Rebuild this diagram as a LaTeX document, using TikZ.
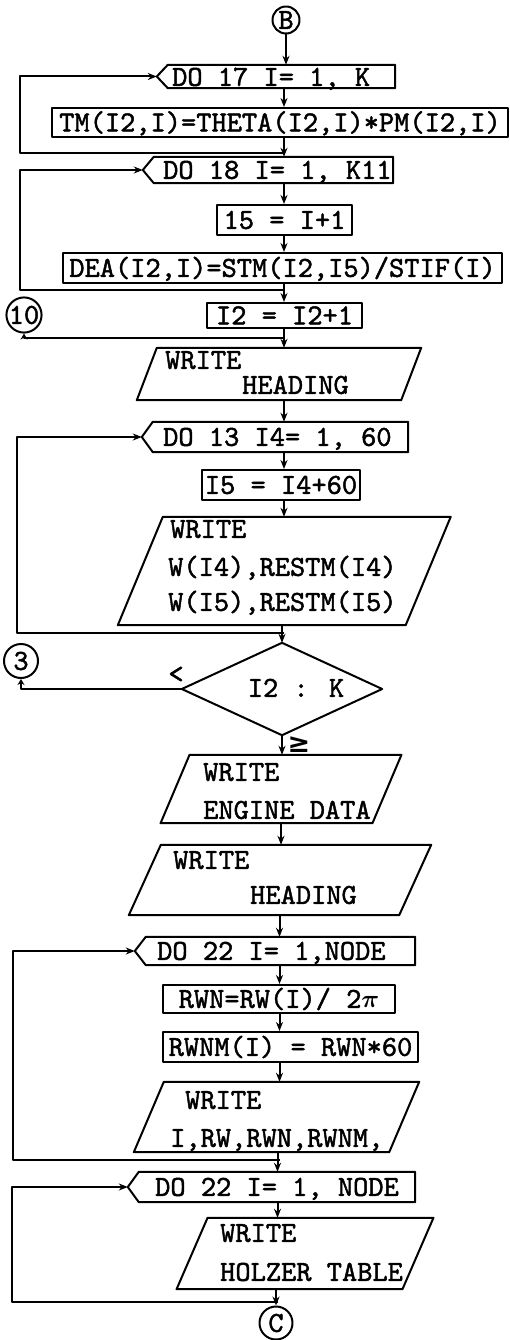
\documentclass[tikz,border=0pt]{standalone}
\usepackage{fontspec}
\newfontfamily\twfont{lmmono10-regular.otf}[FakeBold=1.6]
\newfontfamily\symfont{DejaVu Sans}
\usetikzlibrary{calc,arrows.meta}
\tikzset{
  ln/.style={line width=2pt, line join=round},
  arr/.style={ln,-{Stealth[length=9pt,width=7pt]}},
  sarr/.style={ln,-{Stealth[length=6pt,width=7pt]}},
  txt/.style={font=\fontsize{29}{34}\selectfont\twfont, inner sep=0pt, text height=17.7pt, text depth=0pt},
  proc/.style 2 args={txt, draw, ln, minimum width=#1, minimum height=#2},
  frame/.style 2 args={inner sep=0pt, minimum width=#1, minimum height=#2},
  conn/.style={txt, draw, ln, circle, minimum size=#1},
}
\newcommand\dobox[1]{\draw[ln] (#1.west) -- ($(#1.north west)+(11,0)$) -- (#1.north east) -- (#1.south east) -- ($(#1.south west)+(11,0)$) -- cycle;}
\newcommand\iobox[2]{\draw[ln] ($(#1.north west)+(#2,0)$) -- ($(#1.north east)+(#2,0)$) -- ($(#1.south east)-(#2,0)$) -- ($(#1.south west)-(#2,0)$) -- cycle;}
\begin{document}
\begin{tikzpicture}[x=1pt,y=-1pt]
\useasboundingbox (0,0) rectangle (510,1340);
% axis coordinates
\coordinate (ax1) at (284,0);
\coordinate (ax2) at (281,0);
\coordinate (ax3) at (279.5,0);
\coordinate (ax4) at (277.5,0);

% connectors
\node[conn=27pt] (B) at (286,20) {B};
\node[conn=35pt] (c10) at (24,315) {10};
\node[conn=34pt] (c3) at (21,661) {3};
\node[conn=33pt] (C) at (276,1323) {C};

% DO boxes
\node[frame={238}{23}] (d17) at (276,76.5) {}; \dobox{d17}
\node[txt,anchor=west] (t17) at (172,77) {DO 17 I= 1, K};
\node[frame={250}{26}] (d18) at (268,170) {}; \dobox{d18}
\node[txt,anchor=west] (t18) at (163,170) {DO 18 I= 1, K11};
\node[frame={266}{30}] (d13) at (275,437) {}; \dobox{d13}
\node[txt,anchor=west] (t13) at (163,437) {DO 13 I4= 1, 60};
\node[frame={280}{28}] (d22a) at (275,951) {}; \dobox{d22a}
\node[txt,anchor=west] (t22a) at (157,951) {DO 22 I= 1,NODE};
\node[frame={287}{30}] (d22b) at (271.5,1187) {}; \dobox{d22b}
\node[txt,anchor=west] (t22b) at (155,1187) {DO 22 I= 1, NODE};

% process boxes
\node[proc={456}{29}] (tm) at (280,122.5) {TM(I2,I)=THETA(I2,I)*PM(I2,I)};
\node[proc={135}{30}] (r15) at (284.5,220) {15 = I+1};
\node[proc={439}{30}] (dea) at (282.5,268) {DEA(I2,I)=STM(I2,I5)/STIF(I)};
\node[proc={155}{25}] (i2) at (284.5,315.5) {I2 = I2+1};
\node[proc={158}{30}] (i5) at (281,485) {I5 = I4+60};
\node[proc={232}{28}] (rwn) at (279,999) {RWN=RW(I)/ 2{\boldmath$\pi$}};
\node[proc={255}{30}] (rwnm) at (290.5,1047) {RWNM(I) = RWN*60};

% I/O boxes
\node[frame={264}{52}] (wh1) at (279,374) {}; \iobox{wh1}{10}
\node[txt,anchor=west] (wh1a) at (165,360) {WRITE};
\node[txt,anchor=west] (wh1b) at (242,385) {HEADING};

\node[frame={287.5}{108}] (w2) at (284.25,571) {}; \iobox{w2}{22.5}
\node[txt,anchor=west] (w2a) at (170,529) {WRITE};
\node[txt,anchor=west] (w2b) at (168,567) {W(I4),RESTM(I4)};
\node[txt,anchor=west] (w2c) at (168,602) {W(I5),RESTM(I5)};

\node[frame={211.5}{68}] (we) at (281,789) {}; \iobox{we}{14.5}
\node[txt,anchor=west] (wea) at (203,772) {WRITE};
\node[txt,anchor=west] (web) at (203,810) {ENGINE DATA};

\node[frame={270}{70}] (wh2) at (280,880) {}; \iobox{wh2}{16}
\node[txt,anchor=west] (wh2a) at (173,860) {WRITE};
\node[txt,anchor=west] (wh2b) at (250,895) {HEADING};

\node[frame={255}{70}] (w3) at (276.5,1117) {}; \iobox{w3}{15}
\node[txt,anchor=west] (w3a) at (185,1100) {WRITE};
\node[txt,anchor=west] (w3b) at (170,1138) {I,RW,RWN,RWNM,};

\node[frame={225.5}{71}] (w4) at (305,1253.5) {}; \iobox{w4}{15.5}
\node[txt,anchor=west] (w4a) at (220,1233) {WRITE};
\node[txt,anchor=west] (w4b) at (220,1272) {HOLZER TABLE};

% decision
\node[frame={200}{92}] (dia) at (282,689) {};
\draw[ln] (dia.north) -- (dia.east) -- (dia.south) -- (dia.west) -- cycle;
\node[txt] (diat) at (296,688) {I2 : K};
\node[txt] (lt) at (176,674) {<};
\node[inner sep=0pt, font=\symfont\bfseries\fontsize{27}{27}\selectfont] (ge) at (299,745) {≥};

% main flow
\draw[arr] (B.south) -- (B.south |- d17.north);
\draw[arr] (d17.south -| ax1) -- (tm.north -| ax1);
\draw[arr] (tm.south -| ax1) -- (d18.north -| ax1);
\draw[arr] (d18.south -| ax1) -- (r15.north -| ax1);
\draw[arr] (r15.south -| ax1) -- (dea.north -| ax1);
\draw[arr] (dea.south -| ax1) -- (i2.north -| ax1);
\draw[arr] (i2.south -| ax1) -- (wh1.north -| ax1);
\draw[arr] (wh1.south -| ax1) -- (d13.north -| ax1);
\draw[arr] (d13.south -| ax1) -- (i5.north -| ax1);
\draw[arr] (i5.south -| ax1) -- (w2.north -| ax1);
\draw[arr] (w2.south -| dia.north) -- (dia.north);
\draw[arr] (dia.south) -- (dia.south |- we.north);
\draw[arr] (we.south -| ax2) -- (wh2.north -| ax2);
\draw[arr] (wh2.south -| ax3) -- (d22a.north -| ax3);
\draw[arr] (d22a.south -| ax3) -- (rwn.north -| ax3);
\draw[arr] (rwn.south -| ax3) -- (rwnm.north -| ax3);
\draw[arr] (rwnm.south -| ax3) -- (w3.north -| ax3);
\draw[arr] (w3.south -| ax4) -- (d22b.north -| ax4);
\draw[arr] (d22b.south -| ax4) -- (w4.north -| ax4);
\draw[arr] (w4.south -| C.north) -- (C.north);

% loops
\coordinate (j1) at (284,153);  \coordinate (L1) at (20,153);
\draw[arr] (j1) -- (L1) |- (d17.west);
\coordinate (j2) at (284,290);  \coordinate (L2) at (20,290);
\draw[arr] (j2) -- (L2) |- (d18.west);
\coordinate (j3) at (284,338);
\draw[sarr] (j3) -| (c10.south);
\draw[sarr] (dia.west) -| (c3.south);
\coordinate (j4) at (284,633);  \coordinate (L4) at (17,633);
\draw[arr] (j4) -- (L4) |- (d13.west);
\coordinate (j5) at (279.5,1160); \coordinate (L5) at (13,1160);
\draw[arr] (j5) -- (L5) |- (d22a.west);
\coordinate (j6) at (277.5,1302); \coordinate (L6) at (12,1302);
\draw[arr] (j6) -- (L6) |- (d22b.west);
\end{tikzpicture}
\end{document}
